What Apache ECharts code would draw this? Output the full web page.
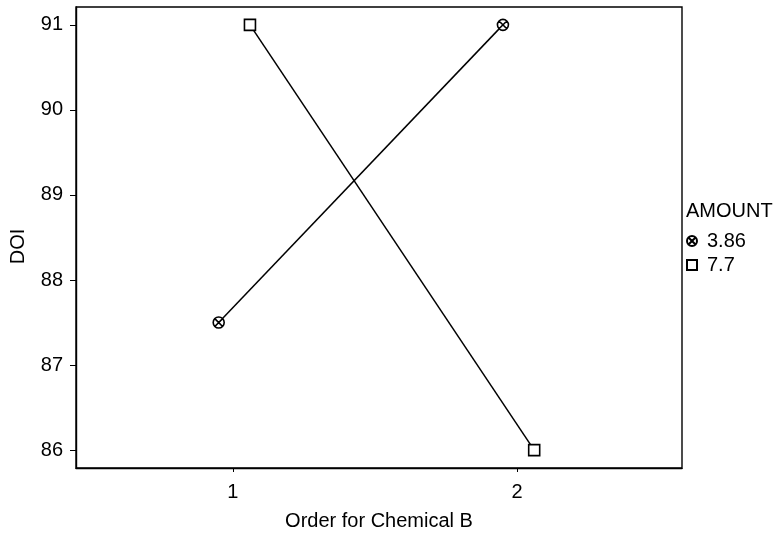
<!DOCTYPE html>
<html>
<head>
<meta charset="utf-8">
<script src="https://cdn.jsdelivr.net/npm/echarts@6/dist/echarts.min.js"></script>
<style>
  html, body { margin: 0; padding: 0; background: #fff; }
  #chart { width: 778px; height: 536px; }
</style>
</head>
<body>
<div id="chart"></div>
<script>
// Interaction plot: mean DOI by order for chemical B, one line per amount
const orderLevels = [1, 2];
const amountNames = ['3.86', '7.7'];
const doiAmount386 = [87.5, 91];
const doiAmount77 = [91, 86];
const yTicks = [86, 87, 88, 89, 90, 91];

// small horizontal dodge so the two groups don't overlap
const dodge = { '3.86': -0.05, '7.7': 0.06 };

const crossCircle = 'path://M0,5 A5,5 0 1,1 10,5 A5,5 0 1,1 0,5 Z M1.46,1.46 L8.54,8.54 M8.54,1.46 L1.46,8.54';
const square = 'path://M0,0 L10,0 L10,10 L0,10 Z';

const font = 'Liberation Sans, Arial, Helvetica, sans-serif';

function pts(values, name) {
  return orderLevels.map((o, i) => [o + dodge[name], values[i]]);
}

const chart = echarts.init(document.getElementById('chart'), null, { renderer: 'canvas' });

const seriesStyle = {
  type: 'line',
  symbolSize: 11,
  symbolKeepAspect: true,
  lineStyle: { color: '#000', width: 1.5 },
  itemStyle: { color: '#fff', borderColor: '#000', borderWidth: 1.6 },
  animation: false
};

chart.setOption({
  backgroundColor: '#fff',
  animation: false,
  textStyle: { fontFamily: font, color: '#000' },
  grid: {
    left: 73, right: 96, top: 7, bottom: 66,
    show: true, borderColor: '#000', borderWidth: 1.4, backgroundColor: 'transparent'
  },
  title: {
    text: 'AMOUNT',
    left: 686, top: 201,
    padding: 0,
    textStyle: { fontFamily: font, fontSize: 20, fontWeight: 'normal', color: '#000' }
  },
  legend: {
    orient: 'vertical',
    left: 686, top: 231,
    padding: 0,
    itemWidth: 10, itemHeight: 10, itemGap: 4,
    textStyle: { fontFamily: font, fontSize: 20, color: '#000', padding: [0, 0, 0, 5] },
    data: [
      { name: amountNames[0], icon: crossCircle },
      { name: amountNames[1], icon: square }
    ]
  },
  xAxis: {
    type: 'value',
    min: 0.448, max: 2.58,
    name: 'Order for Chemical B',
    nameLocation: 'middle',
    nameGap: 43,
    nameTextStyle: { fontFamily: font, fontSize: 20, color: '#000' },
    axisLine: { show: true, lineStyle: { color: '#000', width: 1.4 } },
    axisTick: { show: true, customValues: orderLevels, length: 4, lineStyle: { color: '#000' } },
    axisLabel: { customValues: orderLevels, fontFamily: font, fontSize: 20, color: '#000', margin: 14 },
    splitLine: { show: false }
  },
  yAxis: {
    type: 'value',
    min: 85.79, max: 91.21,
    name: 'DOI',
    nameLocation: 'middle',
    nameGap: 48,
    nameTextStyle: { fontFamily: font, fontSize: 20, color: '#000', padding: [0, 18, 0, 0] },
    axisLine: { show: true, lineStyle: { color: '#000', width: 1.4 } },
    axisTick: { show: true, customValues: yTicks, length: 6, lineStyle: { color: '#000' } },
    axisLabel: { customValues: yTicks, fontFamily: font, fontSize: 20, color: '#000', margin: 13 },
    splitLine: { show: false }
  },
  series: [
    Object.assign({}, seriesStyle, { name: amountNames[0], symbol: crossCircle, data: pts(doiAmount386, amountNames[0]) }),
    Object.assign({}, seriesStyle, { name: amountNames[1], symbol: square, data: pts(doiAmount77, amountNames[1]) })
  ]
});
</script>
</body>
</html>
